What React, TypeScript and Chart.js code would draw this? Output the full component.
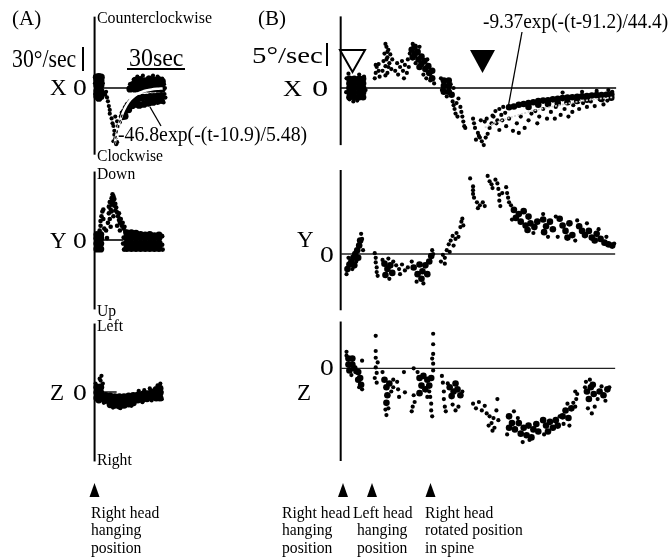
import React, { useEffect, useRef } from "react";
import { Chart, registerables } from "chart.js";
Chart.register(...registerables);

type Pt = [number, number];

// ---------------- Panel A (t: s, v: deg/s) ----------------
const aXCore: Pt[] = [
  [1.3,-7],[1.3,-2.5],[1.3,2],[1.3,6.5],[3.4,-7],[3.4,-2.5],[3.4,2],[3.4,6.5],[2.3,-8.5],[2.3,0],[2.3,4.5],[2.3,9.5],[1.0,9],[3.6,9],
  [15.25,-23.8],[16.25,-19.8],[17.25,-16.7],[18.25,-14.3],[19.75,-11.9],[21.25,-10.3],[22.75,-9.5],[24.25,-8.7],[26.25,-7.9],[28.25,-7.9],
  [30.25,-7.1],[32.25,-7.1],[34.25,-6.7],[36.25,-6.3],[24.25,-14.3],[26.75,-13.5],[29.25,-12.7],[31.75,-11.9],[34.25,-11.1],[36.25,-10.3],
  [16.5,-23.5],[18.5,-18],[20.5,-14.5],[22.5,-13.5],
  [19.25,-0.8],[21.75,-0.8],[24.25,-0.8],[26.75,-0.8],[29.25,-0.8],[31.75,-0.8],[34.25,-0.8],[36.75,-0.8],
  [20.75,2.8],[23.25,2.8],[25.75,2.8],[28.25,2.8],[30.75,2.8],[33.25,2.8],[35.75,2.8],
  [22.25,6.3],[24.75,7],[27.25,6],[29.75,7.5],[32.25,6.5],[34.75,7],[36.75,5.5],
];
const aXDots: Pt[] = [
  [5.75,-5.6],[6.25,-3.2],[6.75,-7.9],[7.25,-11.1],[7.75,-15.1],[8.25,-18.3],[8.25,-21.4],[9.25,-25.4],[9.75,-29.4],[10.25,-31.7],
  [10.75,-35.7],[10.75,-38.9],[11.25,-42.1],[11.75,-46.8],[10.25,-44.4],[12.25,-45.2],[11.25,-23.8],[12.25,-27.8],[12.75,-31.7],
  [13.75,-28.6],[14.25,-23.8],[14.75,-20.6],
  [23.25,9.5],[26.25,10.3],[29.25,8.7],[31.75,10.3],[34.25,9.5],[36.75,7.9],[21.25,7.1],[19.25,3.2],[37.75,3.2],[38.25,0],
  [38,-5],[38.5,-8],[37.5,-12],[4.5,4],[4.8,-4],[0.3,-5],[0.2,4],
];
const aXFit: Pt[] = [
  [10.9,-46.8],[11.5,-41.9],[12,-38.3],[12.5,-34.9],[13,-31.9],[14,-26.6],[15,-22.1],[16,-18.4],[17,-15.4],[18,-12.8],
  [19,-10.7],[20,-8.9],[22,-6.2],[24,-4.3],[26,-3.0],[28,-2.1],[31,-1.2],[34,-0.7],[37,-0.4],
];

const aYCore: Pt[] = [
  [1.3,-7.5],[1.3,-3],[1.3,1.5],[1.3,4.5],[3.3,-7.5],[3.3,-3],[3.3,1.5],[3.3,4.5],[2.3,-5],[2.3,0],
  [17.5,-7],[17.5,-2.5],[17.5,2],[17.5,6],[20,-7],[20,-2.5],[20,2],[20,6],[22.5,-7],[22.5,-2.5],[22.5,2],[22.5,5.5],
  [25,-7],[25,-2.5],[25,2],[25,4.5],[27.5,-7],[27.5,-2.5],[27.5,2],[27.5,4],[30,-7],[30,-2.5],[30,2],[30,4.5],
  [32.5,-7],[32.5,-2.5],[32.5,2],[32.5,3.5],[35,-7],[35,-2.5],[35,2],[35,4],
];
const aYDots: Pt[] = [
  [2.75,7.9],[3.25,11.9],[3.25,15.9],[3.75,19.8],[4.25,23.8],[4.75,25.4],[4.75,17.5],[5.25,9.5],[6.25,7.9],[6.75,1.6],[2.75,3.2],
  [7.75,27.8],[7.75,22.2],[8.25,31.7],[8.75,25.4],[9.25,34.9],[9.25,29.4],[9.75,38.1],[9.75,32.5],[10.25,36.5],[10.25,30.9],
  [10.75,34.1],[10.75,28.6],[11.25,30.2],[11.25,24.6],[11.75,27],[8.25,17.5],[7.25,14.3],[10.25,19.8],[9.25,23.8],[8.75,11.1],
  [12.25,23],[12.75,19.8],[13.25,22.2],[13.25,16.7],[13.75,14.3],[14.25,17.5],[14.75,11.9],[15.25,14.3],[15.75,9.5],[16.25,11.1],
  [16.75,7.1],[13.75,7.9],[12.25,11.9],[36.75,3.2],[36.75,-4],[37,-8],[16,-8],[15.5,-3],[15.8,2],
];

const aZCore: Pt[] = [
  [1.3,-5],[1.3,-0.5],[1.3,4],[3.3,-5],[3.3,-0.5],[3.3,4],[2.3,-6.5],[2.3,2],
  [6,-3],[6,-7],[8.5,-3.5],[8.5,-7.5],[8.5,-10.5],[11,-4],[11,-8],[11,-11],[13.5,-4],[13.5,-8],[13.5,-11.5],
  [16,-4],[16,-8],[16,-11],[18.5,-3.5],[18.5,-7.5],[18.5,-10],[21,-3],[21,-7],[21,-9],[23.5,-2.5],[23.5,-6.5],
  [26,-2],[26,-6],[28.5,-1.5],[28.5,-5.5],[31,0],[31,-4],[33.5,2],[33.5,-2],[33.5,-5],[35.5,3],[35.5,-1],[35.5,-5],
];
const aZDots: Pt[] = [
  [3.75,13.5],[3.25,9.5],[2.75,11.1],[4.5,7],[0.5,7],[4.8,-7],[35.75,7.1],[34.25,5.6],[30,3],[27,1.5],[24,1],
  [36.5,0],[36.5,-6],[20,-11.5],[14,-13.5],[10,-13],[5,-9],[26,-8.5],[31,-7],
];

// ---------------- Panel B (t: s, v: deg/s) ----------------
const bXCore: Pt[] = [
  [4.5,-2.2],[4.5,-1.1],[4.5,0],[4.5,1.1],[4.5,2.2],[7,-2.2],[7,-1.1],[7,0],[7,1.1],[7,2.2],
  [9.5,-2.2],[9.5,-1.1],[9.5,0],[9.5,1.1],[9.5,2.2],[11.5,-2.2],[11.5,-1.1],[11.5,0],[11.5,1.1],[11.5,2.2],
  [36.5,9.1],[38,9.8],[38,8],[39.5,8.6],[40,6.8],[41.5,7.5],[41.5,5.7],[43,6.4],[43.5,4.5],[45,5.2],[45.5,3.6],[47,4.1],[47,2.3],[37,7.3],[40.5,5],
  [53,1.8],[53,0.5],[53,-0.9],[55.5,1.8],[55.5,0.5],[55.5,-0.9],[57,-1.6],
  [86.5,-4.6],[89,-4.4],[91.5,-4],[94,-3.8],[96.5,-3.6],[99,-3.4],[101.5,-3.1],[104,-3],[106.5,-2.9],[109,-2.7],[111.5,-2.6],
  [114,-2.4],[116.5,-2.3],[119,-2.2],[121.5,-2.1],[124,-2],[126.5,-1.9],[129,-1.8],[131.5,-1.7],[134,-1.7],[136.5,-1.6],[139,-1.5],
  [96.5,-4.5],[101.5,-4],[106.5,-3.8],[111.5,-3.6],[116.5,-3.4],[121.5,-3.1],[126.5,-2.8],[134,-2.6],[139,-2.3],
];
const bXDots: Pt[] = [
  [6.5,-3.2],[4.5,-2.7],[8.5,-3],[3,2.3],[12,2.7],[4,3.4],[9.5,3.2],[2.8,-1],[12.8,-0.5],
  [17.5,2.3],[18,3.6],[18.5,5],[19.5,5.7],[19.5,4.1],[20,2.7],[18,5.5],[21.5,4.1],[22,6.4],[22.5,8.2],[23,5.2],[23.5,9.8],
  [24,7.3],[24,3.6],[24.5,9.1],[25,5.9],[25.5,8],[26,4.5],[26.5,6.8],[23,3],[24.5,5],[23.5,6.8],[24,8.6],[23,10.5],
  [28,4.1],[29,5.9],[29.5,3.2],[30.5,5],[31.5,6.4],[32,4.1],[33,5.5],[34,3.6],[34.5,6.8],[35,5],[32.5,2.3],
  [37,10.5],[40.5,9.8],[44.5,6.8],[48,1.1],[46,1.8],[38.5,5.9],[35.5,8.2],[42.5,3.2],[44,2.3],
  [51.5,2.3],[58,0],[54.5,-2],[52,-0.5],[56.5,0.9],
  [57.5,-3.2],[58,-4.1],[58.5,-5],[59,-6.1],[59.5,-3.6],[60,-6.8],[61.5,-4.5],[62,-5.7],[62.5,-6.8],[63,-8],[63.5,-9.1],[64,-9.5],[60.5,-2.5],
  [68,-7.3],[68.5,-8.4],[69,-9.5],[70.5,-10.7],[71.5,-11.8],[72.5,-12.7],[73.5,-13.6],[74.5,-11.8],[75.5,-10.9],[69.5,-12.3],
  [71,-11.4],[74,-8],[75,-7.3],[72,-7.7],[76.5,-9.5],[77.5,-8.4],
  [78.5,-6.8],[79.5,-5.5],[80.5,-7.7],[81.5,-5],[82.5,-6.4],[83.5,-4.5],[84.5,-5.9],
  [78,-6.6],[80,-8.4],[81.5,-10],[83,-7.7],[85,-9.1],[86.5,-7.3],[88.5,-10.2],[90.5,-8.4],[92.5,-6.8],[94.5,-9.5],[96.5,-7.7],
  [98,-6.1],[100,-5.5],[102,-6.8],[104,-5],[106,-7.3],[108,-5.7],[110.5,-4.5],[113,-6.4],[115,-5],[117,-6.8],[119.5,-4.1],
  [122.5,-5],[124.5,-3.6],[126.5,-4.5],[128.5,-3.2],[130.5,-4.3],[133,-2.7],[135,-3.9],[137,-3],[119,-5.7],[110,-7.3],
  [101,-8.4],[91.5,-10.7],[131.5,-0.7],[137.5,-0.5],[124,-0.9],[139.5,-0.9],[114,-1.1],
];
const bXFit: Pt[] = [[74,-9.4],[80,-8.2],[90,-6.6],[100,-5.3],[110,-4.3],[120,-3.4],[130,-2.7],[140,-2.2]];

const bYCore: Pt[] = [
  [3.5,-3.6],[4.5,-2.5],[5.5,-1.8],[6.5,-0.9],[7.5,0],[8.5,0.9],[9.5,2],[10,3.2],[9,-0.9],[7,-2.7],
  [22.5,-2.3],[24,-3.6],[25.5,-2.7],[26.5,-4.5],[23,-5],
  [37.5,-3.2],[39.5,-4.8],[40.5,-2.5],[42,-4.1],[43.5,-2.7],[41.5,-5.9],[44.5,-4.8],[45.5,-1.8],[46.5,-0.5],
  [89,10.5],[91.5,9.5],[94,10.2],[96.5,8.9],[90,8.6],[92.5,7.7],[95,6.8],[97.5,7.3],[99.5,6.4],[96,5.7],[101,7.7],
  [104,8.2],[105.5,6.6],[107.5,7.7],[109,5.9],[104.5,5.2],[112.5,8.4],[114,6.8],[115.5,5.5],[117.5,7.3],[119,4.5],
  [116.5,3.9],[122.5,6.6],[124,5.5],[125.5,4.5],[127.5,5.5],[129,3.9],[130.5,3.2],[131.5,4.8],[133.5,3.6],[135.5,2.7],
  [137.5,2.3],[139.5,2],
];
const bYDots: Pt[] = [
  [3,-4.8],[10.5,4.8],[11,3.6],[11.5,0.9],[6,-3.6],[4,-0.9],[8,-1.8],
  [17.5,0.2],[18,-0.9],[18,-2],[18.5,-3.2],[18.5,-4.3],[19,-5.2],[21.5,-1.4],[25,-5.9],[27,-1.8],[24.5,-1.1],
  [28.5,-2.7],[30,-3.6],[31.5,-2.5],[33,-3.9],[34.5,-3.2],[30.5,-4.8],[39,-6.6],[36.5,-1.8],[47,0.9],[47.5,0],[42.5,-7],
  [51.5,-1.8],[52.5,-0.2],[53.5,-0.9],[54.5,0.9],[55.5,2.3],[56,0.5],[56.5,3.2],[57.5,4.3],[58,2],[59,3.6],[59.5,5],
  [60.5,4.1],[61.5,6.4],[62,7.7],[62.5,8.4],[63,6.8],[53.5,-2.3],
  [66.5,18],[68,16.1],[68,15.2],[68,14.3],[68.5,13.4],[70,12.3],[71.5,11.6],[73,12.3],[74,11.4],[70.5,10.9],[75.5,18.6],
  [76.5,17.3],[77.5,16.6],[78,15.7],[80.5,16.8],[81,15.5],[81.5,14.1],[81.5,12.7],[82,11.4],[83,14.5],[85,15.9],[85.5,14.5],
  [86,13.4],[86.5,12.3],[87.5,11.6],[79.5,17.7],
  [104,9.5],[110.5,8.9],[121.5,8],[126.5,7.3],[111.5,4.1],[120.5,3.2],[132.5,5.9],[136.5,4.1],[140.5,2.5],[88,8.2],[99,5],[106.5,4.1],
];

const bZCore: Pt[] = [
  [4,2.3],[6,2.3],[4,0.9],[6,0.9],[4.5,-0.5],[9,-0.9],[10,-2.3],[10.5,-3.9],[9,-2.7],[7,0],
  [22.5,-2.7],[23.5,-4.5],[24,-6.4],[25,-3.6],[23.5,-8.2],
  [40.5,-2.3],[42.5,-1.8],[44.5,-2.7],[41.5,-4.1],[43.5,-5],[45.5,-4.1],[40.5,-5.9],[46.5,-2.3],
  [56,-4.5],[58,-5.5],[60,-5],[57,-6.6],[61.5,-6.4],[59,-3.6],
  [86.5,-11.4],[88,-13],[86.5,-14.1],[89.5,-14.5],[91.5,-13],[94,-14.1],[96.5,-13.6],[99,-14.5],[92.5,-15.5],[95.5,-15.9],
  [98,-16.4],[100.5,-13.2],[101.5,-15],[104,-12.3],[105.5,-13.6],[107.5,-12.7],[109,-14.1],[110.5,-12.3],[111.5,-13.6],
  [106.5,-15],[114,-11.4],[115.5,-10],[117,-11.8],[118.5,-9.5],[126.5,-5.5],[128.5,-4.5],[130,-6.1],[127.5,-7.3],
  [129.5,-3.9],[133,-5.5],[135,-6.4],[137,-5],
];
const bZDots: Pt[] = [
  [3,3],[3,3.9],[11,-5],[9.5,-4.5],[11,1.8],[5.5,-1.6],[7.5,-0.9],
  [18,7.7],[18,4.1],[18,2.5],[18,0.2],[18.5,-1.1],[18.5,-3.4],[17.5,-2.3],[19,1.4],
  [23,-9.8],[23.5,-11.1],[24.5,-9.5],[21.5,-0.9],[26,-5.5],[27,-2.7],[27,-4.5],
  [29,-3.2],[29.5,-5],[30,-6.8],[32.5,-0.9],[33,-5.7],[37.5,0],[36.5,-10.2],[38,-8],[37,-9.1],[37.5,-6.4],
  [39.5,-0.9],[47.5,-0.5],[44.5,-6.8],[47.5,8.2],[47.5,5.7],[47.5,3.4],[47.5,1.1],[47,2.3],
  [46,-6.8],[46.5,-8.4],[46.5,-10],[47,-11.4],[45.5,-5.5],[52,-1.8],[52.5,-3.4],[53,-5.5],[53,-7.3],[53.5,-9.1],[54,-10.2],
  [55,-3.6],[62.5,-5.5],[57.5,-8.6],[59,-10],[60.5,-9.1],
  [68,-8.4],[69.5,-9.5],[71,-8],[72.5,-10],[74,-8.9],[75,-10.7],
  [80.5,-7.3],[76.5,-11.4],[77.5,-13],[78.5,-11.8],[79,-14.1],[80,-10],[81,-12.3],[76,-13.6],[78,-14.8],
  [85.5,-15.7],[89,-10.2],[93.5,-17.5],[97,-17],[91,-11.8],[104.5,-15.7],[112.5,-11.4],[114.5,-13.2],[119.5,-8.2],
  [116.5,-8.4],[117.5,-13.6],[120.5,-5.5],[121,-7.3],[120.5,-9.1],[121.5,-6.1],
  [126,-3.2],[128,-2.7],[130.5,-9.1],[129,-10.7],[127,-9.5],[125.5,-4.5],[138,-4.5],[136,-7.7],[132,-7.3],[134,-4.3],
];

// ---------------- rendering ----------------
const FONT = '"Liberation Serif", "Times New Roman", serif';

const framePlugin = {
  id: "frame",
  beforeDatasetsDraw(chart: any, _a: any, o: any) {
    const ctx = chart.ctx;
    const xs = chart.scales.x;
    const ys = chart.scales.y;
    const px = xs.getPixelForValue(0);
    ctx.save();
    ctx.strokeStyle = "#000";
    ctx.lineWidth = o.axisWidth;
    ctx.beginPath();
    ctx.moveTo(px, ys.getPixelForValue(o.axisTop));
    ctx.lineTo(px, ys.getPixelForValue(o.axisBottom));
    ctx.stroke();
    const py = ys.getPixelForValue(0);
    ctx.strokeStyle = o.zeroColor;
    ctx.lineWidth = o.zeroWidth;
    ctx.beginPath();
    ctx.moveTo(px, py);
    ctx.lineTo(xs.getPixelForValue(o.zeroEnd), py);
    ctx.stroke();
    ctx.restore();
  },
};

const xy = (a: Pt[]) => a.map(([x, y]) => ({ x, y }));

type PlotProps = {
  left: number; top: number; width: number; height: number;
  xMin: number; xMax: number; yMin: number; yMax: number;
  core: Pt[]; dots: Pt[]; coreR: number; dotR: number;
  fit?: Pt[]; fitColor?: string; fitWidth?: number; fitDash?: number[];
  tip?: Pt[];
  axisTop: number; axisBottom: number; zeroEnd: number; zeroWidth: number; zeroColor?: string;
};

function Plot(p: PlotProps) {
  const ref = useRef<HTMLCanvasElement | null>(null);
  useEffect(() => {
    const datasets: any[] = [];
    if (p.tip) {
      datasets.push({ data: xy(p.tip), showLine: true, pointRadius: 0, borderColor: "#000", borderWidth: 1.3, borderDash: [3, 2.5], tension: 0.3, order: -1 });
    }
    if (p.fit) {
      datasets.push({ data: xy(p.fit), showLine: true, pointRadius: 0, borderColor: p.fitColor, borderWidth: p.fitWidth, borderDash: p.fitDash || [], tension: 0.3, cubicInterpolationMode: "monotone", order: 0 });
    }
    datasets.push({ data: xy(p.dots), pointRadius: p.dotR, backgroundColor: "#000", borderWidth: 0, order: 2 });
    datasets.push({ data: xy(p.core), pointRadius: p.coreR, backgroundColor: "#000", borderWidth: 0, order: 3 });
    const chart = new Chart(ref.current as HTMLCanvasElement, {
      type: "scatter",
      data: { datasets },
      options: {
        animation: false,
        responsive: false,
        maintainAspectRatio: false,
        events: [],
        layout: { padding: 0 },
        plugins: {
          legend: { display: false },
          tooltip: { enabled: false },
          frame: { axisTop: p.axisTop, axisBottom: p.axisBottom, zeroEnd: p.zeroEnd, zeroWidth: p.zeroWidth, zeroColor: p.zeroColor || "#000", axisWidth: 2 },
        } as any,
        scales: {
          x: { type: "linear", display: false, min: p.xMin, max: p.xMax },
          y: { type: "linear", display: false, min: p.yMin, max: p.yMax },
        },
      },
      plugins: [framePlugin as any],
    });
    return () => chart.destroy();
  }, []);
  return (
    <canvas ref={ref} width={p.width} height={p.height}
      style={{ position: "absolute", left: p.left, top: p.top, width: p.width, height: p.height }} />
  );
}

type Lbl = { t: string; x: number; b: number; s: number; sx?: number };
const labels: Lbl[] = [
  { t: "(A)", x: 12, b: 26, s: 21 },
  { t: "(B)", x: 258, b: 26, s: 21 },
  { t: "Counterclockwise", x: 97, b: 24, s: 17.5, sx: 0.91 },
  { t: "30°/sec", x: 12, b: 66.5, s: 25, sx: 0.87 },
  { t: "30sec", x: 129, b: 66.5, s: 26, sx: 0.92 },
  { t: "X", x: 50, b: 95, s: 23 },
  { t: "0", x: 72.5, b: 95, s: 23, sx: 1.2 },
  { t: "-46.8exp(-(t-10.9)/5.48)", x: 118, b: 141.5, s: 21, sx: 0.94 },
  { t: "Clockwise", x: 97, b: 161, s: 17, sx: 0.92 },
  { t: "Down", x: 97, b: 179.5, s: 17, sx: 0.92 },
  { t: "Y", x: 50, b: 248, s: 23 },
  { t: "0", x: 72.5, b: 248, s: 23, sx: 1.2 },
  { t: "Up", x: 97, b: 316, s: 17, sx: 0.92 },
  { t: "Left", x: 97, b: 331.5, s: 17, sx: 0.92 },
  { t: "Z", x: 50, b: 400, s: 23 },
  { t: "0", x: 72.5, b: 400, s: 23, sx: 1.2 },
  { t: "Right", x: 97, b: 465.5, s: 17, sx: 0.92 },
  { t: "Right head", x: 91, b: 518, s: 17, sx: 0.92 },
  { t: "hanging", x: 91, b: 535.5, s: 17, sx: 0.92 },
  { t: "position", x: 91, b: 553, s: 17, sx: 0.92 },
  { t: "5°/sec", x: 252, b: 63, s: 24, sx: 1.2 },
  { t: "X", x: 283, b: 96, s: 24, sx: 1.1 },
  { t: "0", x: 312, b: 96, s: 24, sx: 1.35 },
  { t: "-9.37exp(-(t-91.2)/44.4)", x: 483, b: 29, s: 21, sx: 0.92 },
  { t: "Y", x: 297, b: 247, s: 23 },
  { t: "0", x: 319.5, b: 262, s: 23, sx: 1.2 },
  { t: "0", x: 319.5, b: 375, s: 23, sx: 1.2 },
  { t: "Z", x: 297, b: 400, s: 23 },
  { t: "Right head", x: 282, b: 518, s: 17, sx: 0.92 },
  { t: "hanging", x: 282, b: 535.5, s: 17, sx: 0.92 },
  { t: "position", x: 282, b: 553, s: 17, sx: 0.92 },
  { t: "Left head", x: 353, b: 518, s: 17, sx: 0.92 },
  { t: "hanging", x: 357, b: 535.5, s: 17, sx: 0.92 },
  { t: "position", x: 357, b: 553, s: 17, sx: 0.92 },
  { t: "Right head", x: 425, b: 518, s: 17, sx: 0.92 },
  { t: "rotated position", x: 425, b: 535.5, s: 17, sx: 0.92 },
  { t: "in spine", x: 425, b: 553, s: 17, sx: 0.92 },
];

const A_GEO = { left: 80, width: 100, xMin: -5.75, xMax: 44.25 };
const B_GEO = { left: 325, width: 300, xMin: -6, xMax: 144 };

export default function App() {
  return (
    <div style={{ position: "absolute", left: 0, top: 0, width: 670, height: 558, background: "#fff", overflow: "hidden" }}>
      <Plot {...A_GEO} top={5} height={166} yMin={-65.87} yMax={65.87} core={aXCore} dots={aXDots} coreR={3.6} dotR={2.1}
        fit={aXFit} fitColor="#fff" fitWidth={2.5} tip={aXFit.filter((p) => p[0] <= 15)}
        axisTop={59.5} axisBottom={-55.6} zeroEnd={18.75} zeroWidth={1.6} />
      <Plot {...A_GEO} top={157} height={166} yMin={-65.87} yMax={65.87} core={aYCore} dots={aYDots} coreR={3.6} dotR={2.3}
        axisTop={57.1} axisBottom={-57.9} zeroEnd={15.75} zeroWidth={1.6} />
      <Plot {...A_GEO} top={309} height={166} yMin={-65.87} yMax={65.87} core={aZCore} dots={aZDots} coreR={3.6} dotR={2.1}
        axisTop={57.1} axisBottom={-57.9} zeroEnd={12} zeroWidth={1.4} />
      <Plot {...B_GEO} top={0} height={176} yMin={-20} yMax={20} core={bXCore} dots={bXDots} coreR={3.3} dotR={2.1}
        fit={bXFit} fitColor="#cfcfcf" fitWidth={1.6} fitDash={[2, 1.5]}
        axisTop={17.05} axisBottom={-13.6} zeroEnd={141.5} zeroWidth={1.6} />
      <Plot {...B_GEO} top={166} height={176} yMin={-20} yMax={20} core={bYCore} dots={bYDots} coreR={3.3} dotR={2.1}
        axisTop={20} axisBottom={-13.4} zeroEnd={141} zeroWidth={1.3} zeroColor="#222" />
      <Plot {...B_GEO} top={280} height={190} yMin={-23.18} yMax={20} core={bZCore} dots={bZDots} coreR={3.3} dotR={2.1}
        axisTop={11.1} axisBottom={-22} zeroEnd={141} zeroWidth={1.3} zeroColor="#222" />
      <svg width={670} height={558} style={{ position: "absolute", left: 0, top: 0, pointerEvents: "none" }}>
        <line x1={83} y1={47} x2={83} y2={71} stroke="#000" strokeWidth={2} />
        <line x1={127} y1={69} x2={185} y2={69} stroke="#000" strokeWidth={1.8} />
        <line x1={150} y1={107} x2={161} y2={126} stroke="#000" strokeWidth={1.3} />
        <line x1={327} y1={43} x2={327} y2={66} stroke="#000" strokeWidth={2} />
        <line x1={522} y1={32} x2={508} y2={108} stroke="#000" strokeWidth={1.3} />
        <polygon points="340,50 365,50 352.5,72" fill="#fff" stroke="#000" strokeWidth={2} />
        <polygon points="470,50 495,50 482.5,73" fill="#000" />
        <polygon points="89.5,497 99.5,497 94.5,483" fill="#000" />
        <polygon points="338,497 348,497 343,483" fill="#000" />
        <polygon points="367,497 377,497 372,483" fill="#000" />
        <polygon points="425.5,497 435.5,497 430.5,483" fill="#000" />
      </svg>
      {labels.map((l, i) => (
        <div key={i} style={{
          position: "absolute", left: l.x, top: l.b - 0.8375 * l.s, fontSize: l.s, lineHeight: 1,
          fontFamily: FONT, color: "#000", whiteSpace: "pre",
          transform: `scaleX(${l.sx ?? 1})`, transformOrigin: "left top",
        }}>{l.t}</div>
      ))}
    </div>
  );
}
